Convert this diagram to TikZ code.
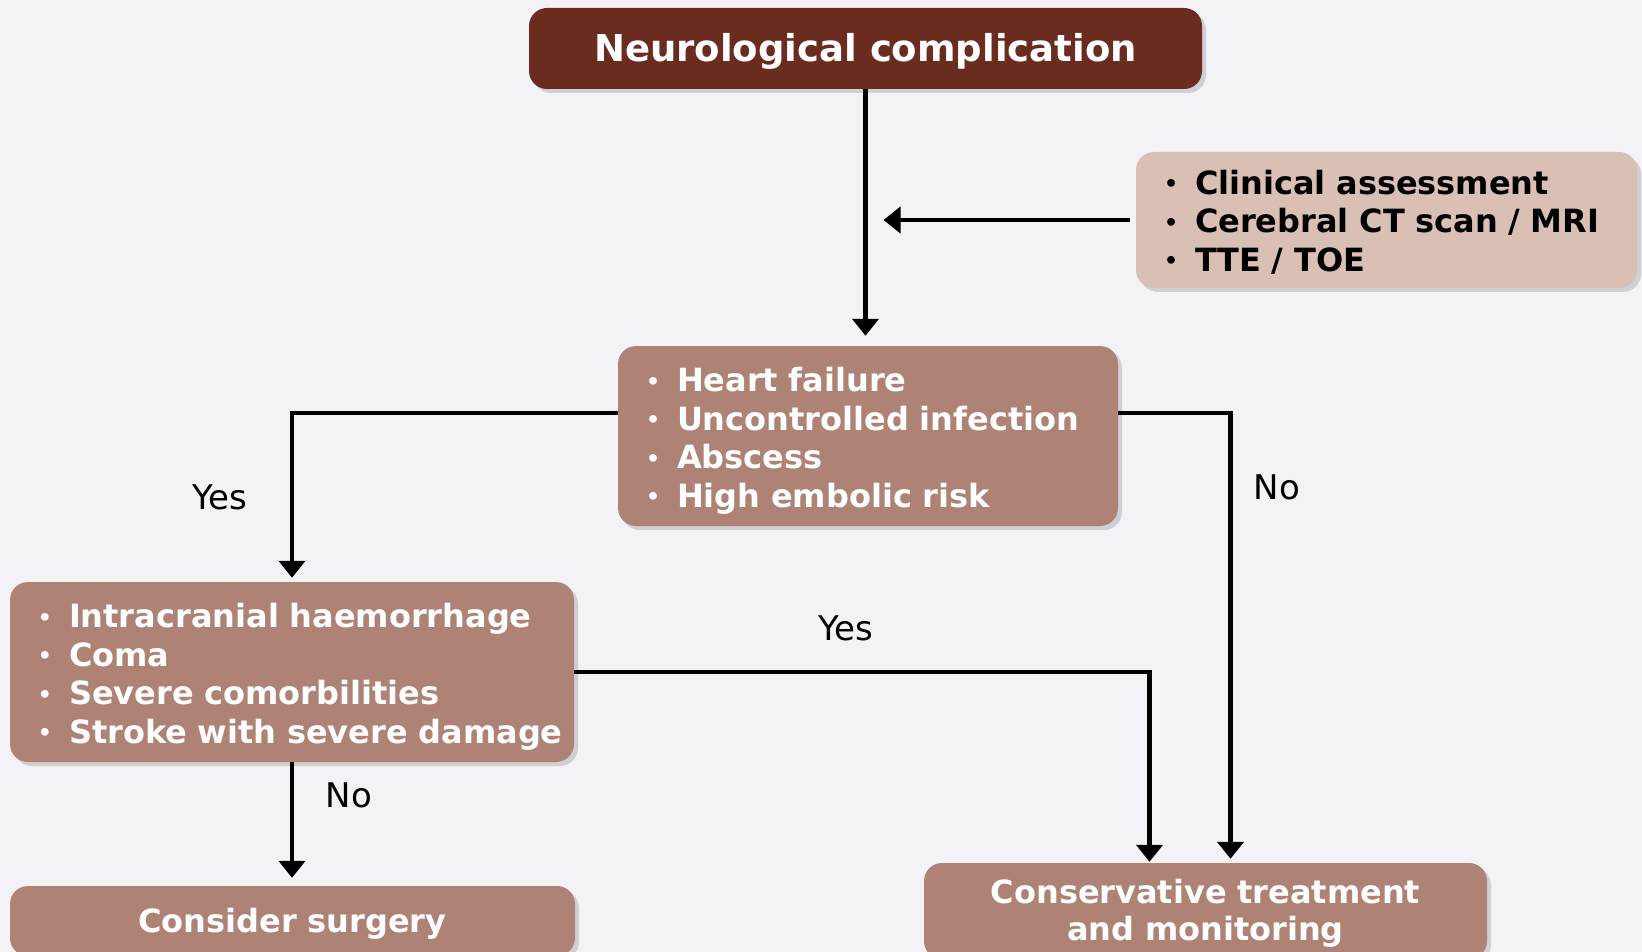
\documentclass[tikz,border=0pt]{standalone}
\usepackage{fontspec}
\setmainfont{DejaVu Sans}
\usetikzlibrary{arrows.meta,positioning,shadows}
\definecolor{bg}{HTML}{F3F2F7}
\definecolor{hd}{HTML}{6A2C1F}
\definecolor{bx}{HTML}{AE8375}
\definecolor{lt}{HTML}{D9BFB4}
\newcommand{\itm}[1]{\hspace*{28pt}\makebox[31pt][l]{\raisebox{2.5pt}{\fontsize{22}{22}\selectfont\textbullet}}\mbox{#1}}
\tikzset{
  box/.style={rounded corners=18pt, fill=bx, text=white, inner sep=0pt,
    font=\fontsize{32}{38.5}\selectfont\bfseries,
    drop shadow={shadow xshift=4pt, shadow yshift=-4pt, opacity=0.3}},
  pad/.style={execute at begin node={\rule{0pt}{#1}}},
  arr/.style={line width=4.5pt, -{Triangle[width=26pt,length=17pt]}},
  lbl/.style={font=\fontsize{34}{40}\selectfont},
}

\begin{document}
\begin{tikzpicture}[x=1pt, y=-1pt]
  \fill[bg] (0,0) rectangle (1642,952);
  \useasboundingbox (0,0) rectangle (1642,952);

  \node[box, fill=hd, font=\fontsize{37}{44}\selectfont\bfseries, text height=36pt, text depth=9pt,
    minimum width=673pt, minimum height=81pt] (head) at (865.5,48.5) {Neurological complication};
  \node[box, fill=lt, text=black, text width=501pt, align=left, minimum height=136pt, pad=28.5pt]
    (exams) at (1386.5,220) {\itm{Clinical assessment}\\ \itm{Cerebral CT scan / MRI}\\ \itm{TTE / TOE}};
  \node[box, text width=500pt, align=left, minimum height=180pt, pad=34pt] (risk) at (868,436)
    {\itm{Heart failure}\\ \itm{Uncontrolled infection}\\ \itm{Abscess}\\ \itm{High embolic risk}};
  \node[box, text width=564pt, align=left, minimum height=180pt, pad=34pt] (severe) at (292,672)
    {\itm{Intracranial haemorrhage}\\ \itm{Coma}\\ \itm{Severe comorbilities}\\ \itm{Stroke with severe damage}};
  \node[box, text width=565pt, align=center, minimum height=70pt, pad=30.5pt] (surgery) at (292.5,921) {Consider surgery};
  \node[box, text width=563pt, align=center, minimum height=96pt, pad=28.5pt,
    font=\fontsize{32}{37}\selectfont\bfseries] (cons) at (1205.5,911) {Conservative treatment\\and monitoring};

  % connectors
  \coordinate (join) at (head.south |- exams.west);
  \draw[arr] (head.south) -- ([yshift=10pt]head.south |- risk.north);
  \draw[arr, shorten <=6pt, shorten >=18pt] (exams.west) -- (join);
  \draw[arr] ([yshift=23pt]risk.west) -| ([yshift=4pt]severe.north);
  \draw[arr] ([yshift=23pt]risk.east) -| ([xshift=25pt,yshift=4pt]cons.north);
  \draw[arr] (severe.east) -| ([xshift=-56pt,yshift=1pt]cons.north);
  \draw[arr] (severe.south) -- ([yshift=8pt]severe.south |- surgery.north);

  % branch labels
  \node[lbl] (yesa) at (220,497) {Yes};
  \node[lbl] (noa) at (1277,487) {No};
  \node[lbl] (yesb) at (846,628) {Yes};
  \node[lbl] (nob) at (349,795) {No};
\end{tikzpicture}
\end{document}
